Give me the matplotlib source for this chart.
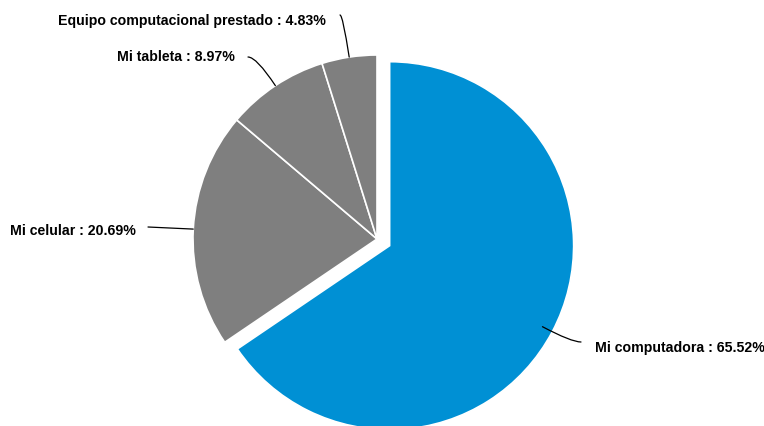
import numpy as np
from matplotlib import pyplot as plt

labels = ["Mi computadora", "Mi celular", "Mi tableta", "Equipo computacional prestado"]
values = [65.52, 20.69, 8.97, 4.83]
colors = ["#0090d4", "#7f7f7f", "#7f7f7f", "#7f7f7f"]
explode = [14.3, 0, 0, 0]  # pie explode is in data units (px here)

W, H = 764, 427

if __name__ == '__main__':
    plt.rcParams['font.family'] = ['Liberation Sans', 'DejaVu Sans']
    fig = plt.figure(figsize=(W / 100, H / 100), dpi=100)
    ax = fig.add_axes([0, 0, 1, 1])

    wedges, _ = ax.pie(values, colors=colors, explode=explode, startangle=90,
                       counterclock=False, center=(377, H - 240), radius=184,
                       wedgeprops=dict(edgecolor="white", linewidth=1.2))
    ax.set_xlim(0, W)
    ax.set_ylim(0, H)
    ax.set_aspect("equal")
    ax.axis("off")

    # label text anchor (px from top-left), alignment, leader end, curved?, radius factor
    layout = [
        ((595, 348), "left", (581, 343), True, 0.94),
        ((136, 231), "right", (148, 228), False, 1.0),
        ((235, 57), "right", (248, 58), True, 1.0),
        ((326, 21), "right", (340, 16), True, 1.0),
    ]

    for w, lab, val, (tpos, ha, lend, curved, rf) in zip(wedges, labels, values, layout):
        mid_deg = (w.theta1 + w.theta2) / 2
        mid = np.deg2rad(mid_deg)
        cx, cy = w.center
        edge = (cx + rf * w.r * np.cos(mid), cy + rf * w.r * np.sin(mid))
        cs = f"angle3,angleA=0,angleB={mid_deg:.1f}" if curved else "arc3,rad=0"
        ax.annotate("", xy=edge, xytext=(lend[0], H - lend[1]),
                    arrowprops=dict(arrowstyle="-", color="black", lw=0.9,
                                    connectionstyle=cs, shrinkA=0, shrinkB=0))
        ax.text(tpos[0], H - tpos[1], f"{lab} : {val:.2f}%", ha=ha, va="center",
                fontsize=10.2, fontweight="bold", color="black")

    plt.savefig("out.png", dpi=100)
